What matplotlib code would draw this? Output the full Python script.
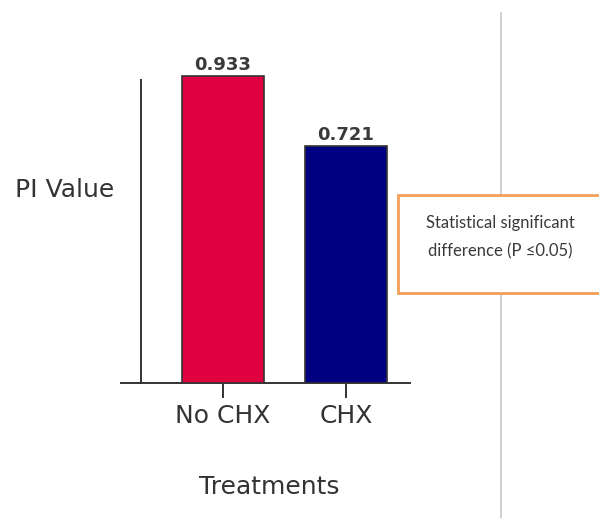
import matplotlib
matplotlib.use("Agg")
import matplotlib.pyplot as plt
from matplotlib.patches import Rectangle
from matplotlib.lines import Line2D

categories = ["No CHX", "CHX"]
pi_values = [0.933, 0.721]
value_labels = ["0.933", "0.721"]
bar_colors = ["#E1003F", "#000080"]
y_label = "PI Value"
x_label = "Treatments"
note_text = "Statistical significant\ndifference (P \u22640.05)"

W, H = 599, 518
fig = plt.figure(figsize=(W / 100, H / 100), dpi=100)
fig.patch.set_facecolor("white")

ax = fig.add_axes([121 / W, (H - 383) / H, (410 - 121) / W, (383 - 54) / H])
ax.set_xlim(-0.829, 1.52)
ax.set_ylim(0, 1.0)
x = list(range(len(categories)))
ax.bar(x, pi_values, width=0.66, color=bar_colors, edgecolor="#333333", linewidth=1.2, zorder=3)
for xi, v, lab in zip(x, pi_values, value_labels):
    ax.text(xi, v + 0.005, lab, ha="center", va="bottom", fontsize=13,
            color="#3a3a3a", family="DejaVu Sans", fontweight="bold")

for s in ["top", "right"]:
    ax.spines[s].set_visible(False)
ax.spines["left"].set_position(("data", -0.667))
ax.spines["left"].set_bounds(0, 0.92)
ax.spines["left"].set_color("#333333")
ax.spines["left"].set_linewidth(1.4)
ax.spines["bottom"].set_color("#333333")
ax.spines["bottom"].set_linewidth(1.4)
ax.set_yticks([])
ax.set_xticks(x)
ax.set_xticklabels(categories, fontsize=18, color="#333333")
ax.tick_params(axis="x", length=11, width=1.4, color="#333333", pad=4)

fig.text(65 / W, 1 - 190 / H, y_label, ha="center", va="center", fontsize=18, color="#333333")
fig.text(269 / W, 1 - 487 / H, x_label, ha="center", va="center", fontsize=18, color="#333333")

fig.add_artist(Line2D([501 / W, 501 / W], [1 - 13 / H, 0], color="#C8C8C8", linewidth=1.2))

fig.add_artist(Rectangle((398 / W, 1 - 293 / H), 220 / W, 98 / H, transform=fig.transFigure,
                         facecolor="white", edgecolor="#F4A05A", linewidth=2.0, zorder=5))
fig.text(500 / W, 1 - 237 / H, note_text, ha="center", va="center", fontsize=12,
         color="#3a3a3a", family=["Lato", "DejaVu Sans"],
         linespacing=1.9, zorder=6)

fig.savefig("out.png", dpi=100, facecolor="white")
